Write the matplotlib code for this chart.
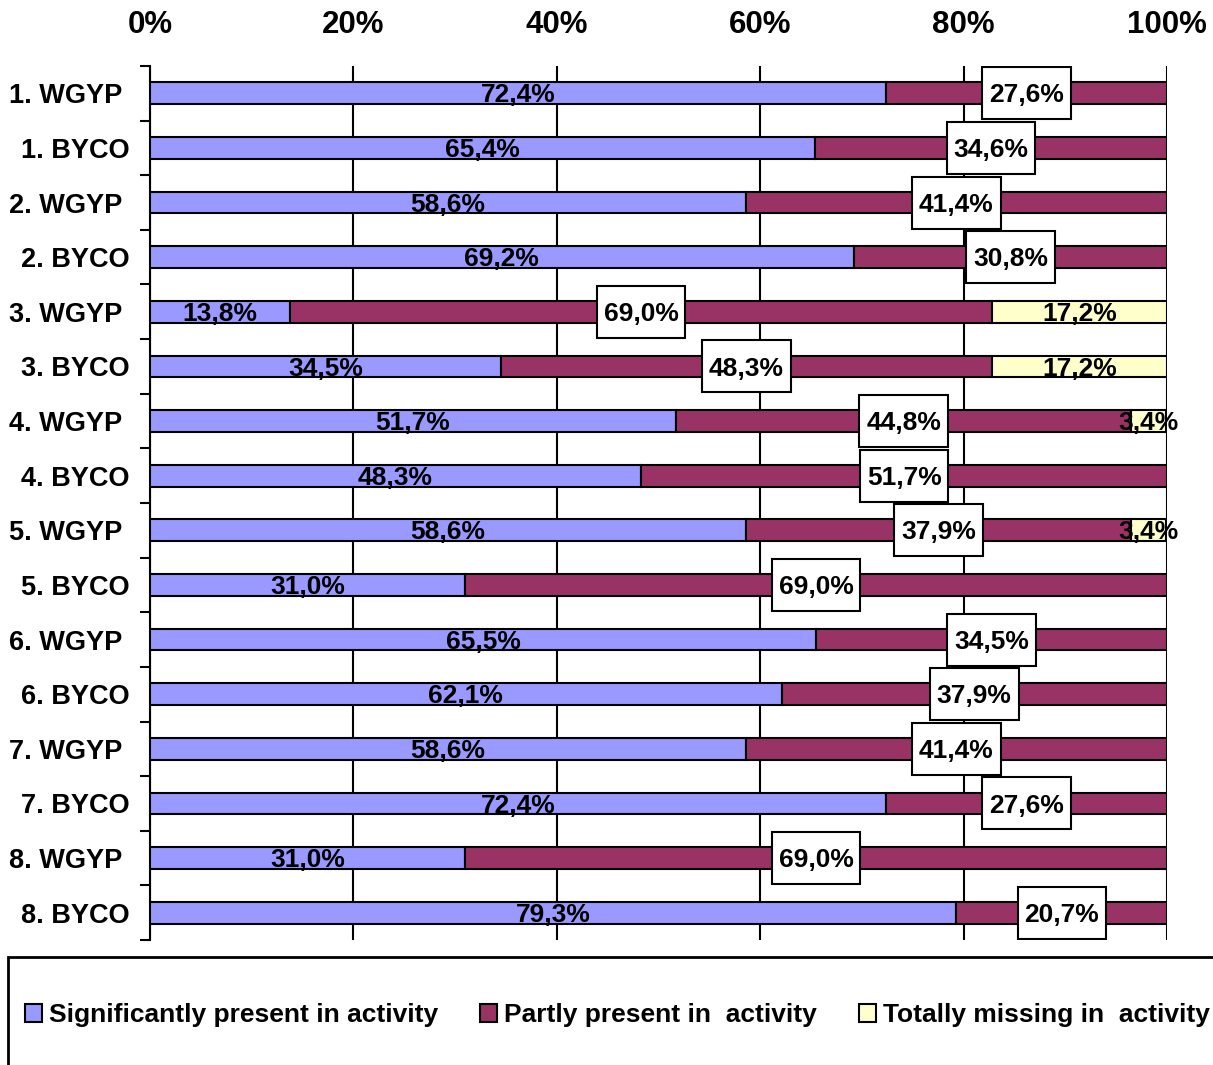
import matplotlib
matplotlib.use("Agg")
import matplotlib.pyplot as plt
from matplotlib.patches import Rectangle

plt.rcParams['font.family'] = ['Liberation Sans', 'DejaVu Sans']
plt.rcParams['font.weight'] = 'bold'

groups = ["1. WGYP ", "1. BYCO", "2. WGYP ", "2. BYCO", "3. WGYP ", "3. BYCO",
          "4. WGYP ", "4. BYCO", "5. WGYP ", "5. BYCO", "6. WGYP ", "6. BYCO",
          "7. WGYP ", "7. BYCO", "8. WGYP ", "8. BYCO"]
significant = [72.4, 65.4, 58.6, 69.2, 13.8, 34.5, 51.7, 48.3,
               58.6, 31.0, 65.5, 62.1, 58.6, 72.4, 31.0, 79.3]
partly = [27.6, 34.6, 41.4, 30.8, 69.0, 48.3, 44.8, 51.7,
          37.9, 69.0, 34.5, 37.9, 41.4, 27.6, 69.0, 20.7]
missing = [0, 0, 0, 0, 17.2, 17.2, 3.4, 0, 3.4, 0, 0, 0, 0, 0, 0, 0]
series_names = ["Significantly present in activity",
                "Partly present in  activity",
                "Totally missing in  activity"]
colors = ["#9999ff", "#993366", "#ffffcc"]

fig = plt.figure(figsize=(12.13, 10.65), dpi=100)
ax = fig.add_axes([150 / 1213, 1 - 940 / 1065, 1017 / 1213, 874 / 1065])

def fmt(v):
    return f"{v:.1f}%".replace('.', ',')

y = list(range(len(groups)))
h = 0.4
left = [0] * len(groups)
handles = []
for k, vals in enumerate([significant, partly, missing]):
    for i, v in enumerate(vals):
        if v <= 0:
            continue
        ax.barh(i, v, left=left[i], height=h, color=colors[k],
                edgecolor='black', linewidth=1.5, zorder=3)
        cx = left[i] + v / 2
        if k == 1:
            # white boxed label for the middle segment
            ax.add_patch(Rectangle((cx - 4.35, i - 0.475), 8.7, 0.95,
                                   facecolor='white', edgecolor='black',
                                   linewidth=1.5, zorder=4))
        ax.text(cx, i + 0.04, fmt(v), ha='center', va='center',
                fontsize=19, fontweight='bold', zorder=5)
        left[i] += v
    handles.append(Rectangle((0, 0), 1, 1, facecolor=colors[k],
                             edgecolor='black', linewidth=1.5))

ax.set_xlim(0, 100)
ax.set_ylim(len(groups) - 0.5, -0.5)
ax.xaxis.tick_top()
ax.set_xticks([0, 20, 40, 60, 80, 100])
ax.set_xticklabels([f"{t}%" for t in range(0, 101, 20)], fontsize=22.5,
                   fontweight='bold')
ax.tick_params(axis='x', length=0, pad=19)
ax.set_yticks(y)
ax.set_yticklabels(groups, fontsize=19.5, fontweight='bold')
ax.tick_params(axis='y', which='major', length=0, pad=15)
ax.set_yticks([i - 0.5 for i in range(len(groups) + 1)], minor=True)
ax.tick_params(axis='y', which='minor', length=7, width=1.5, direction='out')
ax.grid(axis='x', color='black', linewidth=1.5, zorder=1)
for s in ['top', 'right', 'bottom']:
    ax.spines[s].set_visible(False)
ax.spines['left'].set_linewidth(1.5)

# legend panel along the bottom
fig.patches.append(Rectangle((8 / 1213, -0.05), 1.1, 1 - 957 / 1065 + 0.05,
                             transform=fig.transFigure, facecolor='white',
                             edgecolor='black', linewidth=2))
fig.legend(handles, series_names, loc='center',
           bbox_to_anchor=(0.509, 1 - 1015 / 1065), ncol=3, frameon=False,
           prop={'size': 19, 'weight': 'bold'}, handlelength=0.65,
           handleheight=0.65, handletextpad=0.25, columnspacing=1.6)

fig.savefig("out.png", dpi=100)
